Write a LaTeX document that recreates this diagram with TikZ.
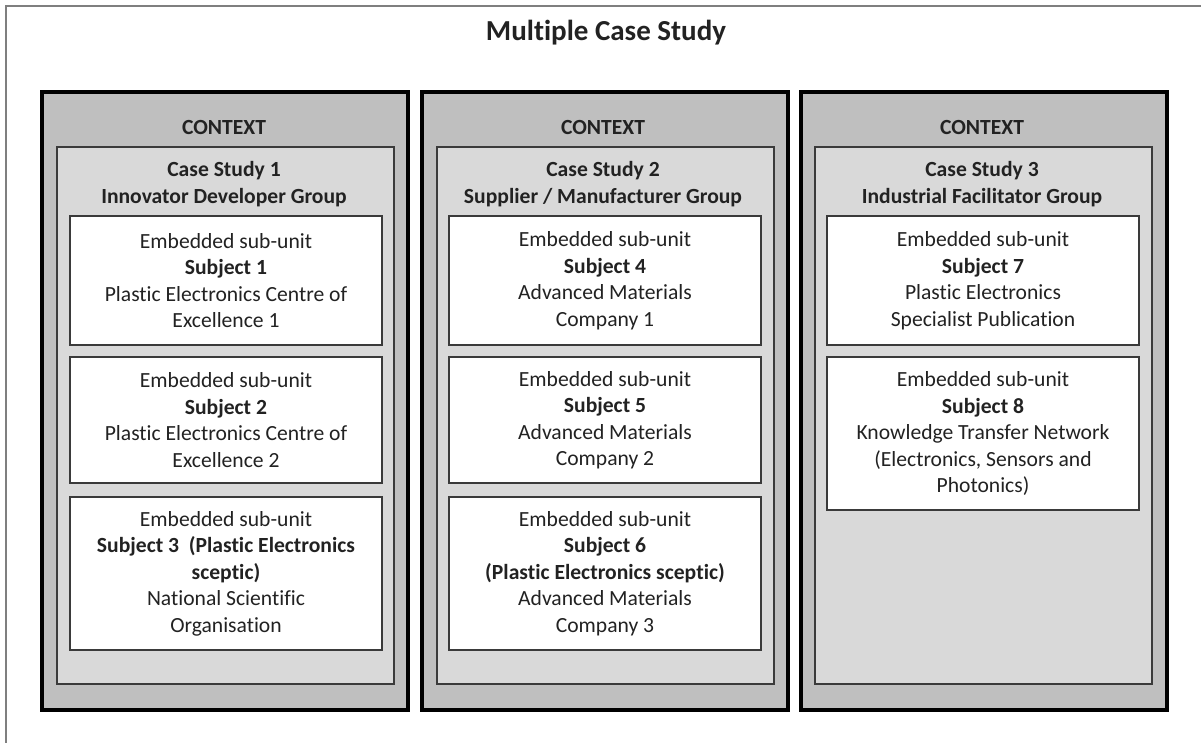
\documentclass[tikz,border=0pt]{standalone}
\usepackage{fontspec}
\setmainfont{Carlito}[Ligatures=NoCommon]
\definecolor{colfill}{HTML}{BFBFBF}
\definecolor{innerfill}{HTML}{D9D9D9}
\definecolor{framegray}{HTML}{7F7F7F}
\definecolor{boxline}{HTML}{3A3A3A}
\definecolor{txt}{HTML}{222222}
\begin{document}
\begin{tikzpicture}[x=1pt,y=-1pt,
  every node/.style={font=\fontsize{21.6}{26.5}\selectfont, text=txt},
  colbox/.style={draw=black, line width=3.5pt, fill=colfill, anchor=north west,
    minimum width=366pt, minimum height=618pt, inner sep=0pt},
  innerbox/.style={draw=boxline, line width=2pt, fill=innerfill, anchor=north west,
    minimum width=337pt, minimum height=537pt, inner sep=0pt},
  subbox/.style={draw=boxline, line width=2pt, fill=white, align=center,
    minimum width=312pt, inner sep=0pt},
  lbl/.style={align=center, inner sep=0pt, font=\fontsize{21.6}{26.5}\selectfont\bfseries},
  frameline/.style={draw=framegray, line width=2pt}
]
\useasboundingbox (0,0) rectangle (1201,742);
\draw[frameline] (6,745) -- (6,6) -- (1204,6);
\node[font=\fontsize{29}{32}\selectfont\bfseries] (title) at (606,33) {Multiple Case Study};

% Column 1
\node[colbox] (c1) at (40,90) {};
\node[innerbox] (i1) at (56,146) {};
\node[lbl] (ctx1) at (224,127) {CONTEXT};
\node[lbl] (cs1) at (224,184) {Case Study 1\\Innovator Developer Group};
\node[subbox, minimum height=129pt] (s1) at (226,280.5) {Embedded sub-unit\\\textbf{Subject 1}\\Plastic Electronics Centre of\\Excellence 1};
\node[subbox, minimum height=126pt] (s2) at (226,420) {Embedded sub-unit\\\textbf{Subject 2}\\Plastic Electronics Centre of\\Excellence 2};
\node[subbox, minimum height=153pt] (s3) at (226,573.5) {Embedded sub-unit\\\textbf{Subject 3\ \ (Plastic Electronics}\\\textbf{sceptic)}\\National Scientific\\Organisation};

% Column 2
\node[colbox] (c2) at (420,90) {};
\node[innerbox] (i2) at (436,146) {};
\node[lbl] (ctx2) at (603,127) {CONTEXT};
\node[lbl] (cs2) at (603,184) {Case Study 2\\Supplier / Manufacturer Group};
\node[subbox, minimum height=129pt] (s4) at (605,280.5) {Embedded sub-unit\\\textbf{Subject 4}\\Advanced Materials\\Company 1};
\node[subbox, minimum height=126pt] (s5) at (605,420) {Embedded sub-unit\\\textbf{Subject 5}\\Advanced Materials\\Company 2};
\node[subbox, minimum height=153pt] (s6) at (605,573.5) {Embedded sub-unit\\\textbf{Subject 6}\\\textbf{(Plastic Electronics sceptic)}\\Advanced Materials\\Company 3};

% Column 3
\node[colbox] (c3) at (799,90) {};
\node[innerbox] (i3) at (814,146) {};
\node[lbl] (ctx3) at (982,127) {CONTEXT};
\node[lbl] (cs3) at (982,184) {Case Study 3\\Industrial Facilitator Group};
\node[subbox, minimum height=129pt] (s7) at (983,280.5) {Embedded sub-unit\\\textbf{Subject 7}\\Plastic Electronics\\Specialist Publication};
\node[subbox, minimum height=153pt] (s8) at (983,433.5) {Embedded sub-unit\\\textbf{Subject 8}\\Knowledge Transfer Network\\(Electronics, Sensors and\\Photonics)};
\end{tikzpicture}
\end{document}
